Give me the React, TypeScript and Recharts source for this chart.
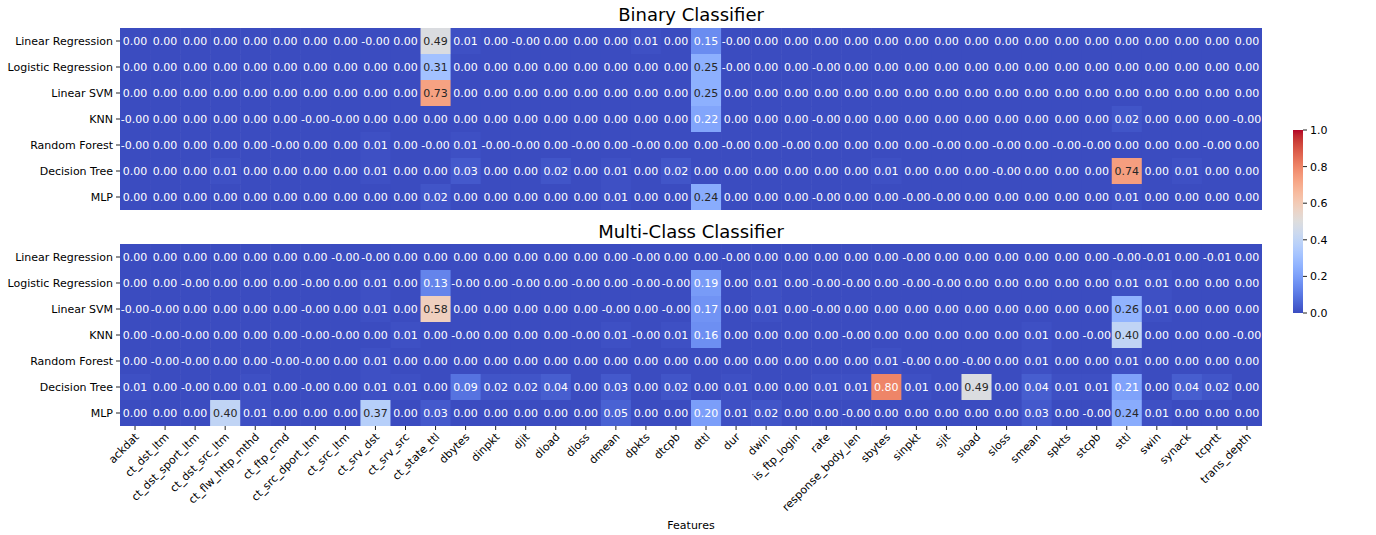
import React from 'react';
import { ScatterChart, Scatter, XAxis, YAxis, BarChart, Bar } from 'recharts';

document.body.style.margin = '0';

const features = [
  'ackdat', 'ct_dst_ltm', 'ct_dst_sport_ltm', 'ct_dst_src_ltm', 'ct_flw_http_mthd', 'ct_ftp_cmd',
  'ct_src_dport_ltm', 'ct_src_ltm', 'ct_srv_dst', 'ct_srv_src', 'ct_state_ttl', 'dbytes', 'dinpkt',
  'djit', 'dload', 'dloss', 'dmean', 'dpkts', 'dtcpb', 'dttl', 'dur', 'dwin', 'is_ftp_login', 'rate',
  'response_body_len', 'sbytes', 'sinpkt', 'sjit', 'sload', 'sloss', 'smean', 'spkts', 'stcpb', 'sttl',
  'swin', 'synack', 'tcprtt', 'trans_depth',
];

const models = ['Linear Regression', 'Logistic Regression', 'Linear SVM', 'KNN', 'Random Forest', 'Decision Tree', 'MLP'];

// N = tiny negative value, printed as -0.00
const N = -0.001;

// Binary classifier
const binLinReg = [0, 0, 0, 0, 0, 0, 0, 0, N, 0, 0.49, 0.01, 0, N, 0, 0, 0, 0.01, 0, 0.15, N, 0, 0, 0, 0, 0, 0, 0, 0, 0, 0, 0, 0, 0, 0, 0, 0, 0];
const binLogReg = [0, 0, 0, 0, 0, 0, 0, 0, 0, 0, 0.31, 0, 0, 0, 0, 0, 0, 0, 0, 0.25, N, 0, 0, N, 0, 0, 0, 0, 0, 0, 0, 0, 0, 0, 0, 0, 0, 0];
const binLinSvm = [0, 0, 0, 0, 0, 0, 0, 0, 0, 0, 0.73, 0, 0, 0, 0, 0, 0, 0, 0, 0.25, 0, 0, 0, 0, 0, 0, 0, 0, 0, 0, 0, 0, 0, 0, 0, 0, 0, 0];
const binKnn = [N, 0, 0, 0, 0, 0, N, N, 0, 0, 0, 0, 0, 0, 0, 0, 0, 0, 0, 0.22, 0, 0, 0, N, 0, 0, 0, 0, 0, 0, 0, 0, 0, 0.02, 0, 0, 0, N];
const binRf = [N, 0, 0, 0, 0, N, 0, 0, 0.01, 0, N, 0.01, N, N, 0, N, 0, N, 0, 0, N, 0, N, 0, 0, 0, 0, N, 0, N, 0, N, N, 0, 0, 0, N, 0];
const binDt = [0, 0, 0, 0.01, 0, 0, 0, 0, 0.01, 0, 0, 0.03, 0, 0, 0.02, 0, 0.01, 0, 0.02, 0, 0, 0, 0, 0, 0, 0.01, 0, 0, 0, N, 0, 0, 0, 0.74, 0, 0.01, 0, 0];
const binMlp = [0, 0, 0, 0, 0, 0, 0, 0, 0, 0, 0.02, 0, 0, 0, 0, 0, 0.01, 0, 0, 0.24, 0, 0, 0, N, 0, 0, N, N, 0, 0, 0, 0, 0, 0.01, 0, 0, 0, 0];

// Multi-class classifier
const mcLinReg = [0, 0, 0, 0, 0, 0, 0, N, N, 0, 0, 0, 0, 0, 0, 0, 0, N, 0, 0, N, 0, 0, 0, 0, 0, N, 0, 0, 0, 0, 0, 0, N, -0.01, 0, -0.01, 0];
const mcLogReg = [0, 0, N, 0, 0, 0, N, 0, 0.01, 0, 0.13, N, 0, N, 0, N, 0, N, N, 0.19, 0, 0.01, 0, N, N, 0, N, N, 0, 0, 0, 0, 0, 0.01, 0.01, 0, 0, 0];
const mcLinSvm = [N, N, 0, 0, 0, 0, N, 0, 0.01, 0, 0.58, 0, 0, 0, 0, 0, N, 0, N, 0.17, 0, 0.01, 0, N, 0, 0, 0, 0, 0, 0, 0, 0, 0, 0.26, 0.01, 0, 0, 0];
const mcKnn = [0, N, N, 0, 0, 0, N, N, 0, 0.01, 0, N, 0, 0, 0, N, 0.01, N, 0.01, 0.16, 0, 0, 0, 0, N, 0, 0, 0, 0, 0, 0.01, 0, N, 0.4, 0, 0, 0, N];
const mcRf = [0, N, N, 0, 0, N, N, 0, 0.01, 0, 0, 0, 0, 0, 0, 0, 0, 0, 0, 0, 0, 0, 0, 0, 0, 0.01, N, 0, N, 0, 0.01, 0, 0, 0.01, 0, 0, 0, 0];
const mcDt = [0.01, 0, N, 0, 0.01, 0, N, 0, 0.01, 0.01, 0, 0.09, 0.02, 0.02, 0.04, 0, 0.03, 0, 0.02, 0, 0.01, 0, 0, 0.01, 0.01, 0.8, 0.01, 0, 0.49, 0, 0.04, 0.01, 0.01, 0.21, 0, 0.04, 0.02, 0];
const mcMlp = [0, 0, 0, 0.4, 0.01, 0, 0, 0, 0.37, 0, 0.03, 0, 0, 0, 0, 0, 0.05, 0, 0, 0.2, 0.01, 0.02, 0, 0, N, 0, 0, 0, 0, 0, 0.03, 0, N, 0.24, 0.01, 0, 0, 0];

const binaryRows = [binLinReg, binLogReg, binLinSvm, binKnn, binRf, binDt, binMlp];
const multiRows = [mcLinReg, mcLogReg, mcLinSvm, mcKnn, mcRf, mcDt, mcMlp];

const colorbarTicks = [0, 0.2, 0.4, 0.6, 0.8, 1.0];

// coolwarm colormap anchors (0..1 in 32 steps)
const COOLWARM = [
  [59, 76, 192], [68, 90, 204], [77, 104, 215], [87, 117, 225], [98, 130, 234], [108, 142, 241],
  [119, 154, 247], [130, 165, 251], [141, 176, 254], [152, 185, 255], [163, 194, 255], [174, 201, 253],
  [184, 208, 249], [194, 213, 244], [204, 217, 238], [213, 219, 230], [221, 221, 221], [229, 216, 209],
  [236, 211, 197], [241, 204, 184], [245, 196, 172], [247, 187, 159], [247, 177, 147], [247, 166, 134],
  [244, 154, 123], [241, 141, 111], [236, 127, 99], [229, 112, 88], [222, 96, 77], [213, 80, 66],
  [203, 62, 56], [192, 40, 47], [180, 4, 38],
];

const coolwarmRgb = (v: number) => {
  const t = Math.max(0, Math.min(1, v)) * (COOLWARM.length - 1);
  const i = Math.min(Math.floor(t), COOLWARM.length - 2);
  const f = t - i;
  return COOLWARM[i].map((c, k) => Math.round(c + (COOLWARM[i + 1][k] - c) * f));
};

const rgbStr = (c: number[]) => `rgb(${c[0]},${c[1]},${c[2]})`;

const textColor = (c: number[]) => {
  const lin = c.map((x) => {
    const s = x / 255;
    return s <= 0.03928 ? s / 12.92 : Math.pow((s + 0.055) / 1.055, 2.4);
  });
  const lum = 0.2126 * lin[0] + 0.7152 * lin[1] + 0.0722 * lin[2];
  return lum > 0.408 ? '#262626' : '#ffffff';
};

const FONT = '"DejaVu Sans", sans-serif';
const PLOT_W = 1142;
const PLOT_H = 182;
const CELL_W = PLOT_W / features.length;
const CELL_H = PLOT_H / models.length;

const HeatCell = (props: any) => {
  const { cx, cy, payload } = props;
  const c = coolwarmRgb(payload.v);
  return (
    <g>
      <rect x={cx - CELL_W / 2} y={cy - CELL_H / 2} width={CELL_W + 0.6} height={CELL_H + 0.6} fill={rgbStr(c)} />
      <text x={cx} y={cy} dy="0.36em" textAnchor="middle" fontSize={11} fontFamily={FONT} fill={textColor(c)}>
        {payload.v.toFixed(2)}
      </text>
    </g>
  );
};

const FeatureTick = ({ x, y, payload }: any) => (
  <g transform={`translate(${x - 1},${y})`}>
    <text transform="rotate(-45)" textAnchor="end" dy="0.72em" fontSize={11} fontFamily={FONT} fill="#000">
      {features[payload.value]}
    </text>
  </g>
);

const ModelTick = ({ x, y, payload }: any) => (
  <text x={x} y={y} dy="0.36em" textAnchor="end" fontSize={11} fontFamily={FONT} fill="#000">
    {models[payload.value]}
  </text>
);

const toCells = (rows: number[][]) => rows.flatMap((row, r) => row.map((v, c) => ({ x: c, y: r, v })));

const Heatmap = ({ rows, height, xAxisHeight, showLabels }: { rows: number[][]; height: number; xAxisHeight: number; showLabels: boolean }) => (
  <ScatterChart width={1376} height={height} margin={{ top: 28, right: 114, bottom: 0, left: 0 }}>
    <XAxis
      type="number"
      dataKey="x"
      domain={[-0.5, features.length - 0.5]}
      ticks={features.map((_, i) => i)}
      interval={0}
      allowDataOverflow
      axisLine={false}
      tickLine={{ stroke: '#222' }}
      tickSize={4}
      tickMargin={2}
      height={xAxisHeight}
      tick={showLabels ? <FeatureTick /> : false}
      label={showLabels ? { value: 'Features', position: 'insideBottom', offset: 6, fontSize: 11, fontFamily: FONT, fill: '#000' } : undefined}
    />
    <YAxis
      type="number"
      dataKey="y"
      reversed
      domain={[-0.5, models.length - 0.5]}
      ticks={models.map((_, i) => i)}
      interval={0}
      allowDataOverflow
      width={120}
      axisLine={false}
      tickLine={{ stroke: '#222' }}
      tickSize={4}
      tickMargin={3}
      tick={<ModelTick />}
    />
    <Scatter data={toCells(rows)} shape={<HeatCell />} isAnimationActive={false} />
  </ScatterChart>
);

const titleStyle: React.CSSProperties = {
  position: 'absolute',
  left: 120,
  width: PLOT_W,
  textAlign: 'center',
  fontFamily: FONT,
  fontSize: 18,
  lineHeight: '20px',
  color: '#000',
};

const Colorbar = () => (
  <BarChart width={70} height={203} data={[{ v: 1 }]} margin={{ top: 10, right: 0, bottom: 10, left: 13 }} barCategoryGap={0}>
    <defs>
      <linearGradient id="cbGrad" x1="0" y1="1" x2="0" y2="0">
        {COOLWARM.map((c, i) => (
          <stop key={i} offset={i / (COOLWARM.length - 1)} stopColor={rgbStr(c)} />
        ))}
      </linearGradient>
    </defs>
    <XAxis hide />
    <YAxis
      orientation="right"
      domain={[0, 1]}
      ticks={colorbarTicks}
      width={47}
      axisLine={false}
      tickLine={{ stroke: '#222' }}
      tickSize={4}
      tickMargin={3}
      tickFormatter={(v: number) => v.toFixed(1)}
      tick={{ fontSize: 11, fontFamily: FONT, fill: '#000', textAnchor: 'start' }}
    />
    <Bar dataKey="v" fill="url(#cbGrad)" isAnimationActive={false} />
  </BarChart>
);

export default function App() {
  return (
    <div style={{ position: 'relative', width: 1376, height: 535, background: '#fff', overflow: 'hidden' }}>
      <div style={{ ...titleStyle, top: 5 }}>Binary Classifier</div>
      <div style={{ position: 'absolute', left: 0, top: 0 }}>
        <Heatmap rows={binaryRows} height={216} xAxisHeight={6} showLabels={false} />
      </div>
      <div style={{ ...titleStyle, top: 222 }}>Multi-Class Classifier</div>
      <div style={{ position: 'absolute', left: 0, top: 216 }}>
        <Heatmap rows={multiRows} height={319} xAxisHeight={109} showLabels={true} />
      </div>
      <div style={{ position: 'absolute', left: 1280, top: 120 }}>
        <Colorbar />
      </div>
    </div>
  );
}
